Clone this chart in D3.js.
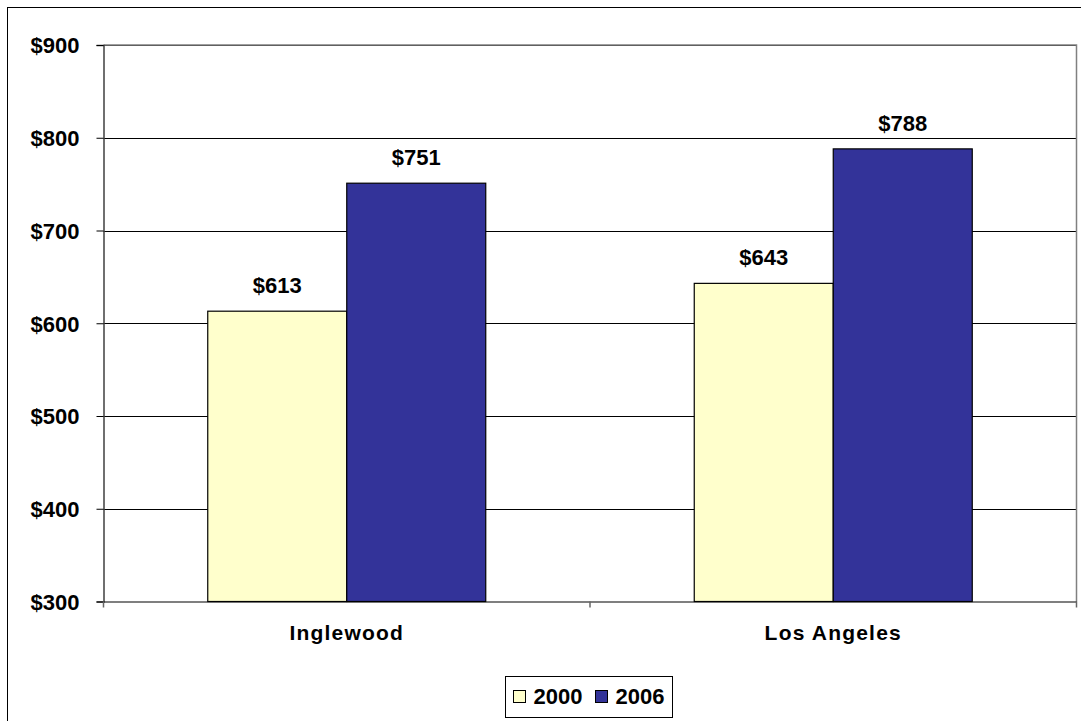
<!DOCTYPE html>
<html>
<head>
<meta charset="utf-8">
<script src="https://cdn.jsdelivr.net/npm/d3@7"></script>
<style>
  html, body { margin: 0; padding: 0; background: #fff; }
  svg { display: block; font-family: Arial, "Liberation Sans", sans-serif; }
</style>
</head>
<body>
<svg id="chart" width="1081" height="721"></svg>
<script>
// Median monthly rent, by city and year
const cities = ["Inglewood", "Los Angeles"];
const years = ["2000", "2006"];
const rent2000 = [613, 643];
const rent2006 = [751, 788];
const yTicks = [300, 400, 500, 600, 700, 800, 900];
const seriesColors = ["#FFFFCC", "#333399"];

const series = [rent2000, rent2006];
const svg = d3.select("#chart");
const FS = 22;

// outer chart frame
svg.append("rect")
  .attr("x", 7.5).attr("y", 7.5)
  .attr("width", 1090).attr("height", 730)
  .attr("fill", "#fff").attr("stroke", "#000").attr("stroke-width", 1);

const plot = { left: 103.5, right: 1076.5, top: 45, bottom: 601.5 };

const y = d3.scaleLinear().domain([300, 900]).range([plot.bottom, plot.top]);
const x0 = d3.scaleBand().domain(cities).range([plot.left, plot.right]).paddingInner(0).paddingOuter(0);
const barW = x0.bandwidth() / 3.5;
const x1 = d3.scaleBand().domain(years).range([0, 2 * barW]);

// gridlines
svg.append("g").selectAll("line").data(yTicks.slice(1)).join("line")
  .attr("x1", plot.left).attr("x2", plot.right)
  .attr("y1", d => Math.round(y(d)) + 0.5).attr("y2", d => Math.round(y(d)) + 0.5)
  .attr("stroke", "#000").attr("stroke-width", 1);

// plot area border (right/top)
svg.append("path")
  .attr("d", `M${plot.left},${plot.top}H${plot.right}V${plot.bottom}`)
  .attr("fill", "none").attr("stroke", "#808080").attr("stroke-width", 1.5);

// bars
const groups = svg.append("g").selectAll("g").data(cities).join("g")
  .attr("transform", d => `translate(${x0(d) + (x0.bandwidth() - 2 * barW) / 2},0)`);

groups.selectAll("rect").data((c, i) => years.map((yr, j) => ({ yr, j, v: series[j][i] })))
  .join("rect")
  .attr("x", d => x1(d.yr))
  .attr("y", d => y(d.v))
  .attr("width", barW)
  .attr("height", d => y(300) - y(d.v))
  .attr("fill", d => seriesColors[d.j])
  .attr("stroke", "#000").attr("stroke-width", 1.2);

groups.selectAll("text").data((c, i) => years.map((yr, j) => ({ yr, j, v: series[j][i] })))
  .join("text")
  .attr("x", d => x1(d.yr) + barW / 2)
  .attr("y", d => y(d.v) - 18)
  .attr("text-anchor", "middle")
  .attr("font-size", FS).attr("font-weight", "bold")
  .text(d => "$" + d.v);

// y axis
const yAxis = d3.axisLeft(y).tickValues(yTicks).tickSize(7).tickPadding(17)
  .tickFormat(d => "$" + d);
const ya = svg.append("g").attr("transform", `translate(${plot.left},0)`).call(yAxis);
ya.select(".domain").attr("stroke", "#404040").attr("stroke-width", 1.5);
ya.selectAll(".tick line").attr("stroke", "#000");
ya.selectAll(".tick text").attr("font-size", FS).attr("font-weight", "bold")
  .attr("dy", "0.36em")
  .attr("font-family", "Arial, 'Liberation Sans', sans-serif").attr("fill", "#000");

// x axis
const xa = svg.append("g").attr("transform", `translate(0,${plot.bottom})`)
  .call(d3.axisBottom(x0).tickSize(0).tickPadding(24));
xa.select(".domain").attr("stroke", "#000").attr("stroke-width", 1.2);
xa.selectAll(".tick text").attr("font-size", 21).attr("font-weight", "bold")
  .attr("letter-spacing", "1.2px")
  .attr("font-family", "Arial, 'Liberation Sans', sans-serif").attr("fill", "#000");
// category separator ticks
const sep = [plot.left, x0("Los Angeles"), plot.right];
svg.append("g").selectAll("line").data(sep).join("line")
  .attr("x1", d => d).attr("x2", d => d)
  .attr("y1", plot.bottom).attr("y2", plot.bottom + 6)
  .attr("stroke", "#666").attr("stroke-width", 1.5);

// legend
const lg = svg.append("g").attr("transform", "translate(505.5,676.5)");
lg.append("rect").attr("width", 167).attr("height", 41)
  .attr("fill", "#fff").attr("stroke", "#000").attr("stroke-width", 1);
const items = lg.selectAll("g").data(years).join("g")
  .attr("transform", (d, i) => `translate(${8 + i * 82},0)`);
items.append("rect").attr("x", 0).attr("y", 14).attr("width", 12).attr("height", 12)
  .attr("fill", (d, i) => seriesColors[i]).attr("stroke", "#000").attr("stroke-width", 1);
items.append("text").attr("x", 20).attr("y", 27)
  .attr("font-size", FS).attr("font-weight", "bold").text(d => d);
</script>
</body>
</html>
